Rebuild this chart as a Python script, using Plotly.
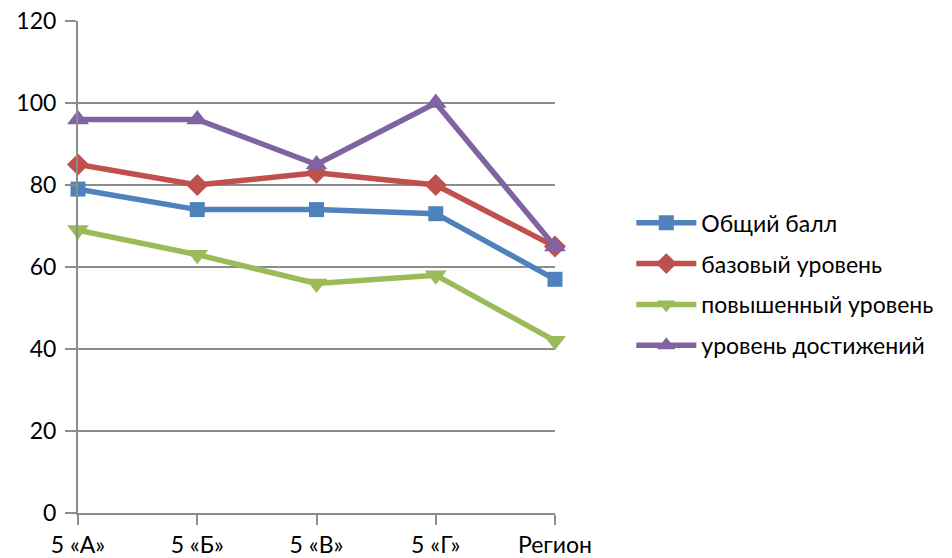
import plotly.graph_objects as go

categories = ["5 «А»", "5 «Б»", "5 «В»", "5 «Г»", "Регион"]
obshchiy = [79, 74, 74, 73, 57]
bazovyy = [85, 80, 83, 80, 65]
povyshennyy = [69, 63, 56, 58, 42]
dostizheniy = [96, 96, 85, 100, 65]
y_ticks = [0, 20, 40, 60, 80, 100, 120]

series = [
    ("Общий балл", obshchiy, "#4F81BD", "square", 15),
    ("базовый уровень", bazovyy, "#C0504D", "diamond", 17),
    ("повышенный уровень", povyshennyy, "#9BBB59", "triangle-down", 19),
    ("уровень достижений", dostizheniy, "#8064A2", "triangle-up", 19),
]

fig = go.Figure()
for i, (name, vals, color, sym, size) in enumerate(series):
    fig.add_trace(go.Scatter(
        x=list(range(len(categories))), y=vals, name=name,
        mode="lines+markers", legendgroup=f"g{i}",
        line=dict(color=color, width=5.5),
        marker=dict(symbol=sym, size=size, color=color),
        cliponaxis=False,
    ))

grid = "#8C8C8C"
font = "Lato, 'Liberation Sans', sans-serif"
fig.update_layout(
    width=952, height=558,
    margin=dict(l=78, r=397, t=21, b=45),
    paper_bgcolor="white", plot_bgcolor="white",
    font=dict(family=font, size=23, color="#000000"),
    showlegend=True,
    legend=dict(
        x=1.16, y=0.465, xanchor="left", yanchor="middle",
        font=dict(size=23), itemwidth=60, tracegroupgap=8,
        traceorder="grouped", bgcolor="rgba(0,0,0,0)",
    ),
    xaxis=dict(
        tickmode="array", tickvals=list(range(len(categories))), ticktext=categories,
        range=[0, 4], showgrid=False, zeroline=False, automargin=False,
        showline=True, linecolor=grid, linewidth=2,
        ticks="outside", ticklen=10, tickwidth=2, tickcolor=grid,
        tickfont=dict(size=23),
    ),
    yaxis=dict(
        range=[0, 120], tickvals=y_ticks, showgrid=True, gridcolor=grid, gridwidth=2,
        zeroline=False, showline=True, linecolor=grid, linewidth=2, automargin=False,
        ticks="outside", ticklen=11, tickwidth=2, tickcolor=grid,
        ticklabelstandoff=4, tickfont=dict(size=23),
    ),
)

fig.write_html("out.html")
